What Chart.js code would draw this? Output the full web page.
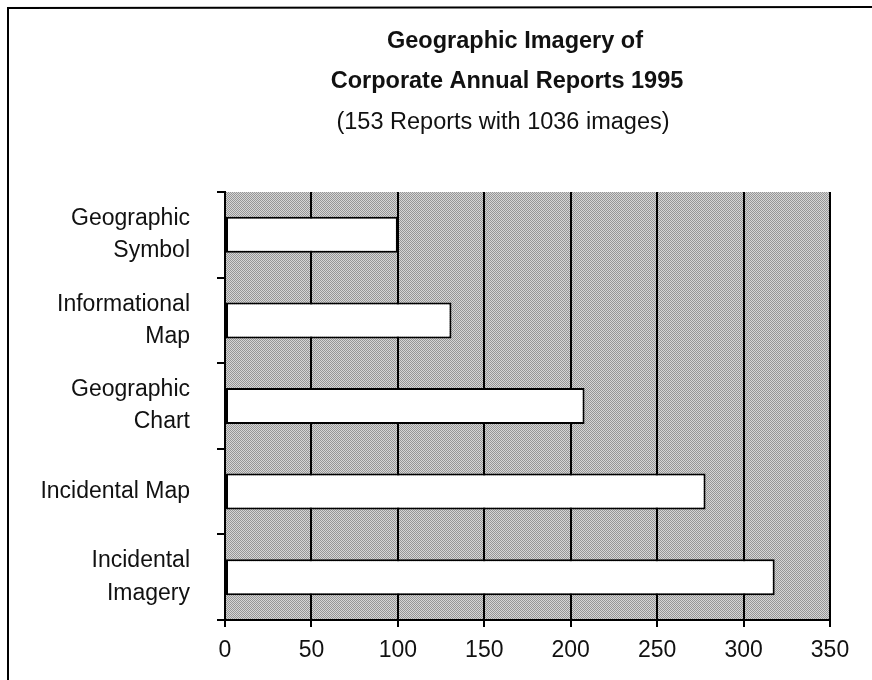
<!DOCTYPE html>
<html>
<head>
<meta charset="utf-8">
<script src="https://cdn.jsdelivr.net/npm/chart.js@4.4.0/dist/chart.umd.min.js"></script>
<style>
  html, body { margin: 0; padding: 0; background: #fff; }
  #wrap { width: 872px; height: 680px; }
</style>
</head>
<body>
<div id="wrap"><canvas id="chart" width="872" height="680"></canvas></div>
<script>
// Data
const categories = [
    ['Geographic', 'Symbol'],
    ['Informational', 'Map'],
    ['Geographic', 'Chart'],
    'Incidental Map',
    ['Incidental', 'Imagery']
];
const imageCounts = [100, 131, 208, 278, 318];
const titleLines = ['Geographic Imagery of', 'Corporate Annual Reports 1995'];
const subtitleText = '(153 Reports with 1036 images)';

const fontFamily = '"Liberation Sans", Arial, sans-serif';

// Dithered gray fill for the plot area
function makePattern() {
    const c = document.createElement('canvas');
    c.width = 2;
    c.height = 2;
    const g = c.getContext('2d');
    g.fillStyle = '#d6d6d6';
    g.fillRect(0, 0, 2, 2);
    g.fillStyle = '#969696';
    g.fillRect(0, 0, 1, 1);
    g.fillRect(1, 1, 1, 1);
    return g.createPattern(c, 'repeat');
}

const backgroundPlugin = {
    id: 'plotBackground',
    beforeDraw(chart) {
        const { ctx, chartArea } = chart;
        ctx.save();
        ctx.fillStyle = '#fff';
        ctx.fillRect(0, 0, chart.width, chart.height);
        // outer frame (top and left edges)
        ctx.strokeStyle = '#000';
        ctx.lineWidth = 2;
        ctx.beginPath();
        ctx.moveTo(8, chart.height);
        ctx.lineTo(8, 8);
        ctx.lineTo(chart.width, 7);
        ctx.stroke();
        // plot area
        ctx.fillStyle = makePattern();
        ctx.fillRect(chartArea.left, chartArea.top,
            chartArea.right - chartArea.left, chartArea.bottom - chartArea.top);
        ctx.restore();
    },
    afterDraw(chart) {
        const { ctx } = chart;
        ctx.save();
        ctx.fillStyle = '#111';
        ctx.textAlign = 'center';
        ctx.textBaseline = 'middle';
        ctx.font = 'bold 23.5px ' + fontFamily;
        ctx.fillText(titleLines[0], 515, 42);
        ctx.fillText(titleLines[1], 507, 82);
        ctx.font = '23.5px ' + fontFamily;
        ctx.fillText(subtitleText, 503, 123);
        ctx.restore();
    }
};

new Chart(document.getElementById('chart'), {
    type: 'bar',
    data: {
        labels: categories,
        datasets: [{
            data: imageCounts,
            backgroundColor: '#fff',
            borderColor: '#000',
            borderWidth: 2,
            borderSkipped: false,
            barPercentage: 0.42,
            categoryPercentage: 1
        }]
    },
    options: {
        indexAxis: 'y',
        responsive: false,
        animation: false,
        layout: {
            padding: { top: 192, right: 42, bottom: 0, left: 0 }
        },
        plugins: {
            legend: { display: false },
            tooltip: { enabled: false }
        },
        scales: {
            x: {
                min: 0,
                max: 350,
                ticks: {
                    stepSize: 50,
                    color: '#111',
                    padding: 10,
                    font: { family: fontFamily, size: 23 }
                },
                grid: {
                    color: '#000',
                    lineWidth: 2,
                    tickLength: 7
                },
                border: { display: true, color: '#000', width: 2 },
                afterFit(scale) { scale.height = 60; }
            },
            y: {
                ticks: {
                    color: '#111',
                    padding: 27,
                    font: { family: fontFamily, size: 23, lineHeight: 1.4 }
                },
                grid: {
                    offset: true,
                    drawOnChartArea: false,
                    color: '#000',
                    lineWidth: 2,
                    tickLength: 8
                },
                border: { display: true, color: '#000', width: 2 },
                afterFit(scale) { scale.width = 225; }
            }
        }
    },
    plugins: [backgroundPlugin]
});
</script>
</body>
</html>
